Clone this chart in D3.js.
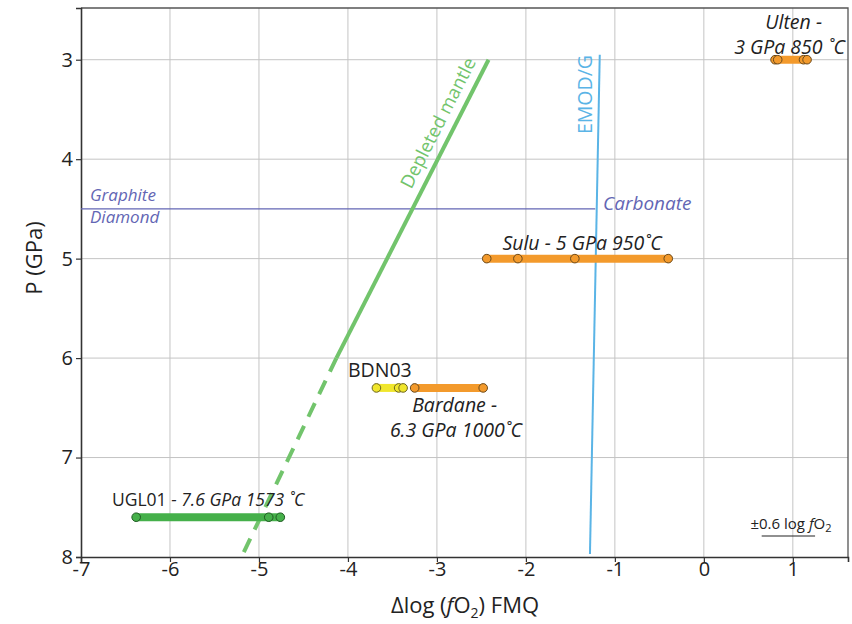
<!DOCTYPE html>
<html lang="en">
<head>
<meta charset="UTF-8">
<title>fO2 vs P</title>
<script src="https://cdn.jsdelivr.net/npm/d3@7"></script>
<style>
    body{ margin:0; background:#fff; }
    text{ font-family: "Open Sans", "Noto Sans", sans-serif; }
</style>
</head>
<body>
<svg id="main" width="852" height="624"></svg>
<script>
    // ---- data ----
    let x_ticks = [-7, -6, -5, -4, -3, -2, -1, 0, 1]
    let y_ticks = [3, 4, 5, 6, 7, 8]

    // sample sets: pressure + individual dlog fO2 values
    let ulten_p = 3.0
    let ulten = [0.80, 0.83, 1.12, 1.16]
    let sulu_p = 5.0
    let sulu = [-2.44, -2.09, -1.45, -0.40]
    let bdn03_p = 6.3
    let bdn03 = [-3.68, -3.43, -3.38]
    let bardane_p = 6.3
    let bardane = [-3.25, -2.48]
    let ugl01_p = 7.6
    let ugl01 = [-6.38, -4.89, -4.76]

    // reference curves [dlog fO2, P]
    let depleted_solid = [[-2.42, 3.0], [-4.13, 6.0]]
    let depleted_dash = [[-4.13, 6.0], [-5.18, 7.97]]
    let emod = [[-1.17, 2.95], [-1.28, 7.97]]
    let graphite_p = 4.5
    let graphite_end = -1.22
    let scale_bar = 0.6

    // ---- layout ----
    let svg = d3.select("#main")
    let m_left = 81, m_right = 848, m_top = 8, m_bottom = 557

    let x_scale = d3.scaleLinear().domain([-7, 1.62]).range([m_left, m_right])
    let y_scale = d3.scaleLinear().domain([2.48, 8]).range([m_top, m_bottom])

    // grid
    svg.append("g").selectAll("line")
        .data(x_ticks.slice(1))
        .join("line")
        .attr("x1", d => x_scale(d)).attr("x2", d => x_scale(d))
        .attr("y1", m_top).attr("y2", m_bottom)
        .attr("stroke", "#c4c4c4").attr("stroke-width", 1)
    svg.append("g").selectAll("line")
        .data(y_ticks.slice(0, -1))
        .join("line")
        .attr("x1", m_left).attr("x2", m_right)
        .attr("y1", d => y_scale(d)).attr("y2", d => y_scale(d))
        .attr("stroke", "#c4c4c4").attr("stroke-width", 1)

    // frame
    svg.append("path")
        .attr("d", `M${m_left},${m_top}H${m_right}V${m_bottom}`)
        .attr("fill", "none").attr("stroke", "#555").attr("stroke-width", 1.3)

    // axes
    let fmt = d => String(d)
    let x_axis = d3.axisBottom(x_scale).tickValues(x_ticks).tickFormat(fmt).tickSize(5).tickPadding(3)
    let y_axis = d3.axisLeft(y_scale).tickValues(y_ticks).tickFormat(fmt).tickSize(5).tickPadding(3)

    let gx = svg.append("g").attr("transform", `translate(0,${m_bottom})`).call(x_axis)
    let gy = svg.append("g").attr("transform", `translate(${m_left},0)`).call(y_axis)
    for (let g of [gx, gy]) {
        g.select(".domain").attr("stroke", "#333").attr("stroke-width", 1.6)
        g.selectAll(".tick line").attr("stroke", "#333").attr("stroke-width", 1.2)
        g.selectAll(".tick text").attr("font-size", 20).attr("fill", "#222")
            .style("font-family", "'Open Sans', sans-serif")
    }
    gx.selectAll(".tick text").attr("dy", "0.55em")

    // axis labels
    let xl = svg.append("text")
        .attr("x", 465).attr("y", 613)
        .attr("text-anchor", "middle")
        .attr("font-size", 22).attr("fill", "#222")
    xl.append("tspan").text("\u0394log (")
    xl.append("tspan").attr("font-style", "italic").text("f")
    xl.append("tspan").text("O")
    xl.append("tspan").attr("font-size", 14).attr("dy", 5).text("2")
    xl.append("tspan").attr("dy", -5).text(") FMQ")

    svg.append("text")
        .attr("transform", "translate(42,258) rotate(-90)")
        .attr("text-anchor", "middle")
        .attr("font-size", 22).attr("fill", "#222")
        .text("P (GPa)")

    let line = d3.line().x(d => x_scale(d[0])).y(d => y_scale(d[1]))

    // graphite / diamond
    let gcol = "#6366b4"
    svg.append("line")
        .attr("x1", x_scale(-7)).attr("x2", x_scale(graphite_end))
        .attr("y1", y_scale(graphite_p)).attr("y2", y_scale(graphite_p))
        .attr("stroke", gcol).attr("stroke-width", 1.2)
    svg.append("text").attr("x", 90).attr("y", 201)
        .attr("font-size", 17).attr("font-style", "italic").attr("fill", gcol)
        .text("Graphite")
    svg.append("text").attr("x", 90).attr("y", 223)
        .attr("font-size", 17).attr("font-style", "italic").attr("fill", gcol)
        .text("Diamond")
    svg.append("text").attr("x", 603).attr("y", 210)
        .attr("font-size", 19).attr("font-style", "italic").attr("fill", gcol)
        .text("Carbonate")

    // EMOD/G
    let ecol = "#5ab4e6"
    svg.append("path").attr("d", line(emod))
        .attr("fill", "none").attr("stroke", ecol).attr("stroke-width", 2)
    svg.append("text")
        .attr("transform", "translate(592,55) rotate(-90)")
        .attr("text-anchor", "end")
        .attr("font-size", 19.5).attr("fill", ecol)
        .text("EMOD/G")

    // depleted mantle
    let dcol = "#72c46c"
    svg.append("path").attr("d", line(depleted_solid))
        .attr("fill", "none").attr("stroke", dcol).attr("stroke-width", 4)
    svg.append("path").attr("d", line(depleted_dash))
        .attr("fill", "none").attr("stroke", dcol).attr("stroke-width", 4)
        .attr("stroke-dasharray", "15,10")
    let p0 = [x_scale(depleted_solid[0][0]), y_scale(depleted_solid[0][1])]
    let p1 = [x_scale(depleted_solid[1][0]), y_scale(depleted_solid[1][1])]
    let ang = Math.atan2(p0[1] - p1[1], p0[0] - p1[0]) * 180 / Math.PI
    svg.append("text")
        .attr("transform", `translate(${p0[0] - 12},${p0[1] + 2}) rotate(${ang})`)
        .attr("text-anchor", "end")
        .attr("font-size", 18.5).attr("fill", dcol)
        .text("Depleted mantle")

    // sample bars
    function samples(vals, p, fill, stroke) {
        let g = svg.append("g")
        g.append("line")
            .attr("x1", x_scale(d3.min(vals))).attr("x2", x_scale(d3.max(vals)))
            .attr("y1", y_scale(p)).attr("y2", y_scale(p))
            .attr("stroke", fill).attr("stroke-width", 8)
        g.selectAll("circle")
            .data(vals)
            .join("circle")
            .attr("cx", d => x_scale(d))
            .attr("cy", y_scale(p))
            .attr("r", 4.3)
            .attr("fill", fill)
            .attr("stroke", stroke).attr("stroke-width", 1)
    }
    samples(ulten, ulten_p, "#f39a2c", "#6b4a1c")
    samples(sulu, sulu_p, "#f39a2c", "#6b4a1c")
    samples(bdn03, bdn03_p, "#f0e62c", "#6b6420")
    samples(bardane, bardane_p, "#f39a2c", "#6b4a1c")
    samples(ugl01, ugl01_p, "#45b04a", "#1f5a22")

    // sample labels
    function label(x, y, parts, anchor) {
        let t = svg.append("text").attr("x", x).attr("y", y)
            .attr("font-size", 19.5).attr("fill", "#222")
            .attr("text-anchor", anchor || "start")
        for (let p of parts) {
            t.append("tspan").attr("font-style", p[1] ? "italic" : "normal").text(p[0])
        }
    }
    label(822, 29, [["Ulten -", true]], "end")
    label(845, 54, [["3 GPa 850 \u02daC", true]], "end")
    label(582, 250, [["Sulu - 5 GPa 950\u02daC", true]], "middle")
    label(348, 377, [["BDN03", false]])
    label(497, 412, [["Bardane -", true]], "end")
    label(522, 437, [["6.3 GPa 1000\u02daC", true]], "end")
    let ug = svg.append("text").attr("x", 112).attr("y", 506)
        .attr("font-size", 17.5).attr("fill", "#222")
    ug.append("tspan").text("UGL01")
    ug.append("tspan").attr("font-style", "italic").text(" - 7.6 GPa 1573 \u02daC")

    // scale bar
    let sb = svg.append("text").attr("x", 791).attr("y", 529)
        .attr("text-anchor", "middle").attr("font-size", 15).attr("fill", "#222")
    sb.append("tspan").text("\u00b10.6 log ")
    sb.append("tspan").attr("font-style", "italic").text("f")
    sb.append("tspan").text("O")
    sb.append("tspan").attr("font-size", 11).attr("dy", 3).text("2")
    let sx = x_scale(0.65)
    svg.append("line")
        .attr("x1", sx).attr("x2", sx + (x_scale(scale_bar) - x_scale(0)))
        .attr("y1", 536).attr("y2", 536)
        .attr("stroke", "#222").attr("stroke-width", 1.2)
</script>
</body>
</html>
